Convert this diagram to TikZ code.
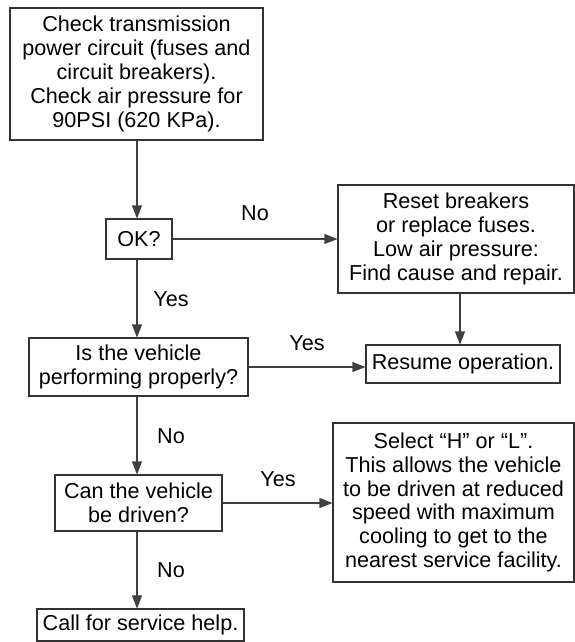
\documentclass[tikz,border=0pt]{standalone}
\usepackage{fontspec}
\setmainfont{Liberation Sans}
\usetikzlibrary{arrows.meta}
\begin{document}
\begin{tikzpicture}[x=1pt,y=-1pt,
  box/.style={draw=black!80, line width=1.1pt, rectangle, inner sep=0pt, align=center,
    font=\fontsize{21.6}{23.8}\selectfont},
  lbl/.style={inner sep=0pt, font=\fontsize{21.6}{23.8}\selectfont},
  conn/.style={draw=black!75, line width=1.1pt, -{Triangle[length=13pt,width=10pt]}}]
\useasboundingbox (0,0) rectangle (575,642);

\node[box, minimum width=253pt, minimum height=132pt] (check) at (136.5,74)
  {Check transmission\\power circuit (fuses and\\circuit breakers).\\Check air pressure for\\90PSI (620 KPa).};
\node[box, minimum width=66pt, minimum height=40pt] (ok) at (139,239) {OK?};
\node[box, minimum width=236pt, minimum height=108pt] (reset) at (456,239)
  {Reset breakers\\or replace fuses.\\Low air pressure:\\Find cause and repair.};
\node[box, minimum width=194pt, minimum height=38pt] (resume) at (463,364) {Resume operation.};
\node[box, minimum width=219pt, minimum height=58pt] (perf) at (138.5,367)
  {Is the vehicle\\performing properly?};
\node[box, minimum width=167pt, minimum height=56pt] (driven) at (138.5,503)
  {Can the vehicle\\be driven?};
\node[box, minimum width=241pt, minimum height=159pt] (select) at (453.5,502.5)
  {Select “H” or “L”.\\This allows the vehicle\\to be driven at reduced\\speed with maximum\\cooling to get to the\\nearest service facility.};
\node[box, minimum width=207pt, minimum height=32pt] (call) at (140.5,625) {Call for service help.};

\node[lbl] (l1) at (255,213) {No};
\node[lbl] (l2) at (171,299) {Yes};
\node[lbl] (l3) at (307,343) {Yes};
\node[lbl] (l4) at (171,436) {No};
\node[lbl] (l5) at (278,479) {Yes};
\node[lbl] (l6) at (171,570) {No};

\coordinate (cx) at (137,0);
\draw[conn] (check.south -| cx) -- (ok.north -| cx);
\draw[conn] (ok.east) -- (ok.east -| reset.west);
\draw[conn] ([xshift=4pt]reset.south) -- ([xshift=4pt]reset.south |- resume.north);
\draw[conn] (ok.south -| cx) -- (perf.north -| cx);
\draw[conn] (perf.east) -- (perf.east -| resume.west);
\draw[conn] (perf.south -| cx) -- (driven.north -| cx);
\draw[conn] (driven.east) -- (driven.east -| select.west);
\draw[conn] (driven.south -| cx) -- (call.north -| cx);
\end{tikzpicture}
\end{document}
